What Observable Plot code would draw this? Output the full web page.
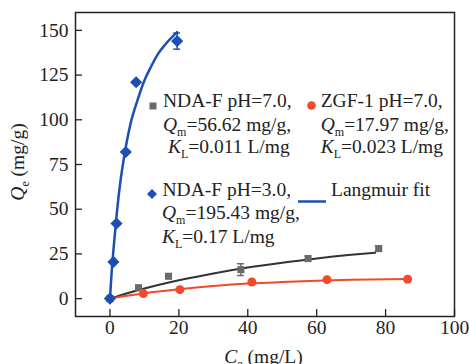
<!DOCTYPE html>
<html><head><meta charset="utf-8">
<script src="https://cdn.jsdelivr.net/npm/d3@7"></script>
<script src="https://cdn.jsdelivr.net/npm/@observablehq/plot@0.6"></script>
<style>
body{margin:0;background:#fff;}
#wrap{position:relative;width:469px;height:364px;overflow:hidden;font-family:"Liberation Serif","Times New Roman",serif;color:#222;}
#wrap svg{position:absolute;left:0;top:0;}
.t{position:absolute;font-size:19.5px;line-height:20px;white-space:nowrap;}
.t i{font-style:italic;}
.t sub{font-size:12px;vertical-align:-5px;line-height:0;}
.mk{position:absolute;}
</style></head><body><div id="wrap"></div>
<script>
// ---- data ----
const xTicks = [0, 20, 40, 60, 80, 100];
const yTicks = [0, 25, 50, 75, 100, 125, 150];

// NDA-F pH=3.0 (blue)
const blueX = [0, 1, 1.9, 4.6, 7.6, 19.5];
const blueY = [0, 20.5, 42, 82, 121, 144];
const blueErr = [0, 0, 0, 0, 0, 4.5];
const blueFitX = [0, 0.5, 1, 2, 3, 4, 6, 8, 10, 12, 14, 16, 19.5];
const blueFitY = [0, 15, 27, 48, 65, 78, 98, 111, 122, 130, 137, 142, 149];

// NDA-F pH=7.0 (gray)
const grayX = [0, 8.3, 17, 38, 57.5, 78];
const grayY = [0, 6.1, 12.5, 16.2, 22.4, 28];
const grayErr = [0, 0, 0, 3.3, 0, 1.5];
const grayFitX = [0, 5, 10, 20, 30, 40, 50, 60, 70, 77];
const grayFitY = [0, 3, 5.7, 10.3, 14.1, 17.4, 20.1, 22.5, 24.5, 25.7];

// ZGF-1 pH=7.0 (red)
const redX = [0, 9.7, 20.3, 41.2, 63, 86.4];
const redY = [0, 2.8, 5, 9.3, 10.6, 10.8];
const redFitX = [0, 10, 20, 30, 40, 50, 60, 70, 86.4];
const redFitY = [0, 3.0, 5.2, 7.0, 8.4, 9.3, 10.0, 10.5, 11.0];

const BLUE = "#1c4fb4", GRAY = "#6a6a6a", DARK = "#333333", RED = "#f04a2a";

const pts = (xs, ys, es) => xs.map((x, i) => ({x, y: ys[i], e: es ? es[i] : 0}));
const blue = pts(blueX, blueY, blueErr), gray = pts(grayX, grayY, grayErr), red = pts(redX, redY);
const blueFit = pts(blueFitX, blueFitY), grayFit = pts(grayFitX, grayFitY), redFit = pts(redFitX, redFitY);

function errMarks(data, color) {
  const d = data.filter(p => p.e > 0);
  return [
    Plot.ruleX(d, {x: "x", y1: p => p.y - p.e, y2: p => p.y + p.e, stroke: color, strokeWidth: 1.5}),
    Plot.ruleY(d, {y: p => p.y - p.e, x1: p => p.x - 1, x2: p => p.x + 1, stroke: color, strokeWidth: 1.5}),
    Plot.ruleY(d, {y: p => p.y + p.e, x1: p => p.x - 1, x2: p => p.x + 1, stroke: color, strokeWidth: 1.5})
  ];
}

const plot = Plot.plot({
  width: 469, height: 364,
  marginLeft: 75, marginRight: 15, marginTop: 12, marginBottom: 48,
  style: {fontFamily: "'Liberation Serif','Times New Roman',serif", fontSize: "19.5px", color: "#222", background: "transparent", overflow: "visible"},
  x: {domain: [-10, 100]},
  y: {domain: [-10, 160]},
  marks: [
    Plot.axisX({ticks: xTicks, tickSize: -7, tickPadding: 11, label: null, fontSize: 19.5, strokeWidth: 1.3}),
    Plot.axisY({ticks: yTicks, tickSize: -7, tickPadding: 14, label: null, fontSize: 19.5, strokeWidth: 1.3}),
    Plot.line(grayFit, {x: "x", y: "y", stroke: DARK, strokeWidth: 2, curve: "monotone-x"}),
    Plot.line(redFit, {x: "x", y: "y", stroke: RED, strokeWidth: 2, curve: "monotone-x"}),
    Plot.line(blueFit, {x: "x", y: "y", stroke: BLUE, strokeWidth: 2.5, curve: "monotone-x"}),
    ...errMarks(gray, GRAY),
    ...errMarks(blue, BLUE),
    Plot.dot(gray, {x: "x", y: "y", symbol: "square", r: 4, fill: GRAY}),
    Plot.dot(red, {x: "x", y: "y", symbol: "circle", r: 4.5, fill: RED}),
    Plot.dot(blue, {x: "x", y: "y", symbol: "diamond2", r: 5.5, fill: BLUE}),
    Plot.frame({stroke: "#222", strokeWidth: 1.5})
  ]
});
const wrap = document.getElementById("wrap");
wrap.appendChild(plot);

// ---- overlay text (legend & axis titles) ----
function txt(html, left, baseline, extra) {
  const d = document.createElement("div");
  d.className = "t";
  d.innerHTML = html;
  d.style.left = left + "px";
  d.style.top = (baseline - 16.6) + "px";
  if (extra) Object.assign(d.style, extra);
  wrap.appendChild(d);
  return d;
}
function marker(svgInner, cx, cy, w, h) {
  const d = document.createElement("div");
  d.className = "mk";
  d.style.left = (cx - w / 2) + "px";
  d.style.top = (cy - h / 2) + "px";
  d.innerHTML = `<svg width="${w}" height="${h}" viewBox="0 0 ${w} ${h}">${svgInner}</svg>`;
  d.firstChild.style.position = "static";
  wrap.appendChild(d);
}

// block 1
marker(`<rect x="0.5" y="0.5" width="7" height="7" fill="${GRAY}"/>`, 153, 100, 8, 8);
txt("NDA-F pH=7.0,", 163, 107.7);
txt("<i>Q</i><sub>m</sub>=56.62 mg/g,", 163, 131.7);
txt("<i>K</i><sub>L</sub>=0.011 L/mg", 168, 153.3);

marker(`<circle cx="4.5" cy="4.5" r="4.3" fill="${RED}"/>`, 311.7, 100, 9, 9);
txt("ZGF-1 pH=7.0,", 320.7, 107.7);
txt("<i>Q</i><sub>m</sub>=17.97 mg/g,", 320.7, 131.7);
txt("<i>K</i><sub>L</sub>=0.023 L/mg", 320.7, 153.3);

// block 2
marker(`<path d="M5,0 L10,5 L5,10 L0,5 Z" fill="${BLUE}"/>`, 152, 190, 10, 10);
txt("NDA-F pH=3.0,", 162.5, 196.7);
txt("<i>Q</i><sub>m</sub>=195.43 mg/g,", 162, 220);
txt("<i>K</i><sub>L</sub>=0.17 L/mg", 162, 243.3);
marker(`<line x1="0" y1="1.5" x2="28" y2="1.5" stroke="${BLUE}" stroke-width="2.5"/>`, 312, 190, 28, 3);
txt("Langmuir fit", 331, 196.7);

// axis titles
txt("<i>C</i><sub>e</sub> (mg/L)", 0, 364, {width: "100%", left: "0px", textAlign: "center", paddingLeft: "58px", boxSizing: "border-box", width: "469px"});
const yl = txt("<i>Q</i><sub>e</sub> (mg/g)", 0, 0, {});
yl.style.left = "0px"; yl.style.top = "0px";
yl.style.transformOrigin = "0 0";
const w = yl.getBoundingClientRect().width;
yl.style.transform = `translate(${25 - 16.6}px, ${162 + w / 2}px) rotate(-90deg)`;
</script>
</body></html>
